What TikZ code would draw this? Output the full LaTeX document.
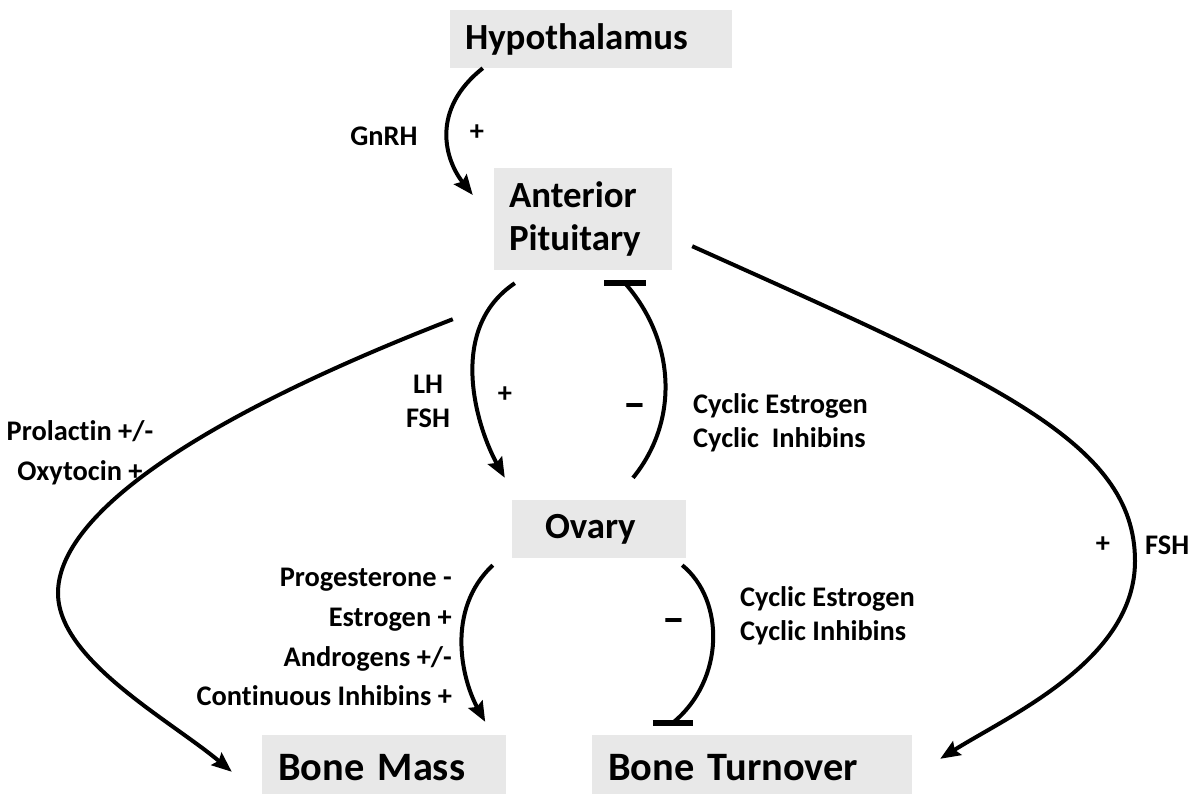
\documentclass[tikz,border=0pt]{standalone}
\usepackage{fontspec}
\setmainfont{Carlito}[Ligatures={NoCommon}]
\usepackage{tikz}
\usetikzlibrary{arrows.meta, calc}
\definecolor{boxgray}{HTML}{E8E8E8}
\newcommand{\organfont}{\fontsize{37}{43}\selectfont\bfseries}
\newcommand{\lblsize}[1]{\fontsize{28.5}{#1}\selectfont\bfseries}

\begin{document}
\begin{tikzpicture}[x=1bp, y=-1bp,
  box/.style={rectangle, fill=boxgray, inner ysep=0pt, align=left, font=\organfont},
  arrow/.style={-{Stealth[length=20bp, width=16bp, inset=3bp]}, line width=4bp},
  inhib/.style={line width=4bp},
  tbar/.style={line width=5.5bp},
  lbl/.style={inner sep=0pt, font=\lblsize{34}},
  sign/.style={inner sep=0pt, font=\fontsize{46}{46}\selectfont\bfseries}]

  \useasboundingbox (0,0) rectangle (1193,794);

  % organs
  \node[box, inner xsep=15bp, text width=252bp, minimum height=58bp] (hyp) at (591,39) {Hypothalamus};
  \node[box, inner xsep=15bp, text width=148bp, minimum height=102bp] (ap) at (583,219) {Anterior\\Pituitary};
  \node[box, inner xsep=33bp, text width=108bp, minimum height=58bp] (ovary) at (599,529) {Ovary};
  \node[box, inner xsep=16bp, text width=212bp, minimum height=66bp, font=\fontsize{40.5}{50}\selectfont\bfseries] (bm) at (384,768) {Bone Mass};
  \node[box, inner xsep=16bp, text width=288bp, minimum height=66bp, font=\fontsize{40.5}{50}\selectfont\bfseries] (bt) at (752,768) {Bone Turnover};

  % ends of the inhibition bars
  \coordinate (apbar) at ($(ap.south)+(42,13)$);
  \coordinate (btbar) at ($(bt.north west)+(81,-12)$);
  \coordinate (prlstart) at ($(ap.south west)+(-41,49)$);

  % connectors
  \draw[arrow] ($(hyp.south west)+(33,0)$) .. controls (430,110) and (445,160) .. ($(ap.west)+(-21,-24)$);
  \draw[arrow] ($(ap.south west)+(21,13)$) .. controls (445,330) and (478,430) .. ($(ovary.north west)+(-7,-22)$);
  \draw[inhib] ($(ovary.north)+(34,-22)$) .. controls (680,420) and (675,340) .. (apbar);
  \draw[tbar] ($(apbar)+(-21,0)$) -- ($(apbar)+(21,0)$);
  \draw[arrow] ($(ap.south east)+(20,-24)$) .. controls (992,381) and (1135,441) .. (1135,561)
    .. controls (1135,660) and (1010,715) .. ($(bt.north east)+(28,24)$);
  \draw[arrow] (prlstart) .. controls (180,425) and (58,520) .. (58,593)
    .. controls (58,660) and (170,720) .. ($(bm.north west)+(-30,37)$);
  \draw[arrow] ($(ovary.south west)+(-19,7)$) .. controls (445,610) and (462,680) .. ($(bm.north east)+(-21,-13)$);
  \draw[inhib] ($(ovary.south east)+(-4,7)$) .. controls (725,600) and (725,680) .. (btbar);
  \draw[tbar] ($(btbar)+(-20,0)$) -- ($(btbar)+(20,0)$);

  % labels
  \node[lbl] (gnrh) at (384,136) {GnRH};
  \node[lbl] (gnrhsign) at (477,133) {+};
  \node[lbl, align=center] (lhfsh) at (428,401) {LH\\FSH};
  \node[lbl] (lhsign) at (505,395) {+};
  \node[sign] (apminus) at (635,411) {\textendash};
  \node[lbl, anchor=west, align=left] (cyc1) at (693,423) {Cyclic Estrogen\\Cyclic~ Inhibins};
  \node[lbl] (fshsign) at (1103,545) {+};
  \node[lbl, anchor=west] (fsh) at (1145,545) {FSH};
  \node[lbl, align=center, font=\lblsize{40}] (prl) at (80,453) {Prolactin +/-\\Oxytocin +};
  \node[lbl, anchor=east, align=right, font=\lblsize{40}] (ovlbl) at (452,637) {Progesterone -\\Estrogen +\\Androgens +/-\\Continuous Inhibins +};
  \node[sign] (btminus) at (674,626) {\textendash};
  \node[lbl, anchor=west, align=left] (cyc2) at (740,616) {Cyclic Estrogen\\Cyclic Inhibins};
\end{tikzpicture}
\end{document}
